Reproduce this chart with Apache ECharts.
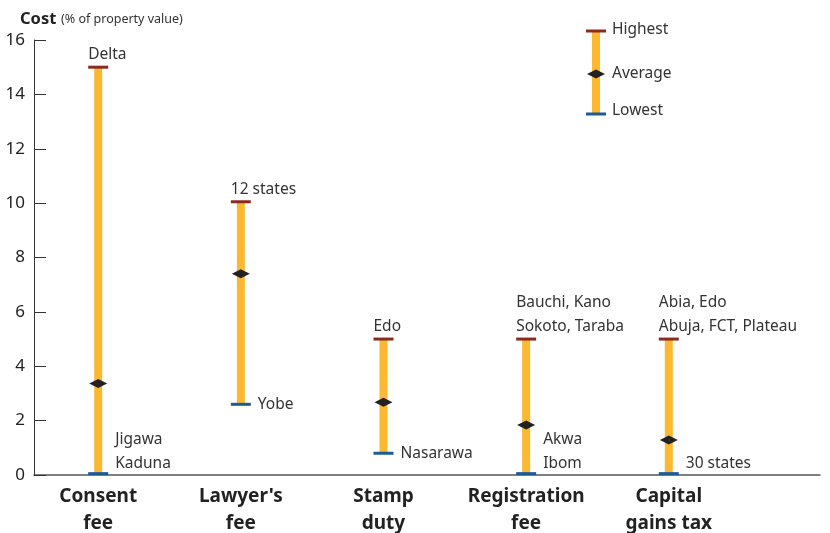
<!DOCTYPE html>
<html><head><meta charset="utf-8">
<script src="https://cdn.jsdelivr.net/npm/echarts@6/dist/echarts.min.js"></script>
<style>html,body{margin:0;padding:0;background:#fff}#c{width:830px;height:533px}</style>
</head><body><div id="c"></div>
<script>
const categories = ['Consent\nfee', "Lawyer's\nfee", 'Stamp\nduty', 'Registration\nfee', 'Capital\ngains tax'];
const lowest = [0.05, 2.6, 0.8, 0.05, 0.05];
const average = [3.37, 7.4, 2.68, 1.84, 1.29];
const highest = [15.0, 10.05, 5.0, 5.0, 5.0];
const highLabels = ['Delta', '12 states', 'Edo', 'Bauchi, Kano\nSokoto, Taraba', 'Abia, Edo\nAbuja, FCT, Plateau'];
const lowLabels = ['Jigawa\nKaduna', 'Yobe', 'Nasarawa', 'Akwa\nIbom', '30 states'];
const yTicks = [0, 2, 4, 6, 8, 10, 12, 14, 16];

const FONT = 'Noto Sans';
const ORANGE = '#FBB830', RED = '#8B2A1F', BLUE = '#1B5B9A', DARK = '#222';
const LBL = '15.5px "' + FONT + '"';

const chart = echarts.init(document.getElementById('c'), null, {renderer: 'canvas'});

function diamond(cx, cy, w, h, fill) {
  return {type: 'polygon', shape: {points: [[cx - w/2, cy], [cx, cy - h/2], [cx + w/2, cy], [cx, cy + h/2]]}, style: {fill: fill}};
}

function renderItem(params, api) {
  const i = api.value(0), lo = api.value(1), av = api.value(2), hi = api.value(3);
  const pHi = api.coord([i, hi]), pLo = api.coord([i, lo]), pAv = api.coord([i, av]);
  const axisY = api.coord([i, 0])[1];
  const cx = pHi[0];
  const lowTxt = lowLabels[i];
  const nLines = lowTxt.split('\n').length;
  const lowY = Math.min(pLo[1], axisY + 1 - nLines * 12);
  return {type: 'group', children: [
    {type: 'rect', shape: {x: cx - 4, y: pHi[1], width: 8, height: pLo[1] - pHi[1]}, style: {fill: ORANGE}},
    {type: 'rect', shape: {x: cx - 10, y: pHi[1] - 1.5, width: 20, height: 3}, style: {fill: RED}},
    {type: 'rect', shape: {x: cx - 10, y: pLo[1] - 1.5, width: 20, height: 3}, style: {fill: BLUE}},
    diamond(cx, pAv[1], 18, 9, DARK),
    {type: 'text', style: {text: highLabels[i], x: cx - 10, y: pHi[1] - 0.5, align: 'left', verticalAlign: 'bottom', font: LBL, lineHeight: 24, fill: '#333'}},
    {type: 'text', style: {text: lowTxt, x: cx + 17, y: lowY, align: 'left', verticalAlign: 'middle', font: LBL, lineHeight: 24, fill: '#333'}}
  ]};
}

const data = categories.map((c, i) => [i, lowest[i], average[i], highest[i]]);

const lx = 596;
chart.setOption({
  animation: false,
  textStyle: {fontFamily: FONT},
  title: {
    text: '{b|Cost} {n|(% of property value)}', left: 20, top: 10, padding: 0,
    textStyle: {rich: {b: {fontFamily: FONT, fontWeight: 'bold', fontSize: 16.5, color: DARK}, n: {fontFamily: FONT, fontWeight: 'normal', fontSize: 12.5, color: '#333'}}}
  },
  grid: {left: 34, right: 10, top: 40, bottom: 58, containLabel: false, outerBoundsMode: 'none'},
  xAxis: {
    type: 'value', min: -0.45, max: 5.06,
    axisLine: {show: true, onZero: false, lineStyle: {color: '#555', width: 1.5}},
    axisTick: {show: false}, splitLine: {show: false},
    axisLabel: {customValues: [0, 1, 2, 3, 4], formatter: v => categories[Math.round(v)], fontFamily: FONT, fontWeight: 'bold', fontSize: 19, lineHeight: 27, color: DARK, margin: 8}
  },
  yAxis: {
    type: 'value', min: 0, max: 16, interval: 2,
    axisLine: {show: true, onZero: false, lineStyle: {color: '#333', width: 1}},
    axisTick: {show: true, inside: true, length: 12, lineStyle: {color: '#333'}},
    splitLine: {show: false},
    axisLabel: {formatter: v => yTicks.includes(v) ? String(v) : '', fontFamily: FONT, fontSize: 17, color: DARK, margin: 9}
  },
  series: [{type: 'custom', renderItem: renderItem, data: data, clip: false, encode: {x: 0, y: [1, 2, 3]}}],
  graphic: [
    {type: 'rect', shape: {x: lx - 4, y: 31, width: 8, height: 83}, style: {fill: ORANGE}},
    {type: 'rect', shape: {x: lx - 10, y: 29.5, width: 20, height: 3}, style: {fill: RED}},
    {type: 'rect', shape: {x: lx - 10, y: 112.5, width: 20, height: 3}, style: {fill: BLUE}},
    diamond(lx, 74, 18, 9, DARK),
    {type: 'text', style: {text: 'Highest', x: lx + 16, y: 30, verticalAlign: 'middle', font: LBL, fill: '#333'}},
    {type: 'text', style: {text: 'Average', x: lx + 16, y: 74, verticalAlign: 'middle', font: LBL, fill: '#333'}},
    {type: 'text', style: {text: 'Lowest', x: lx + 16, y: 111, verticalAlign: 'middle', font: LBL, fill: '#333'}}
  ]
});
</script></body></html>
